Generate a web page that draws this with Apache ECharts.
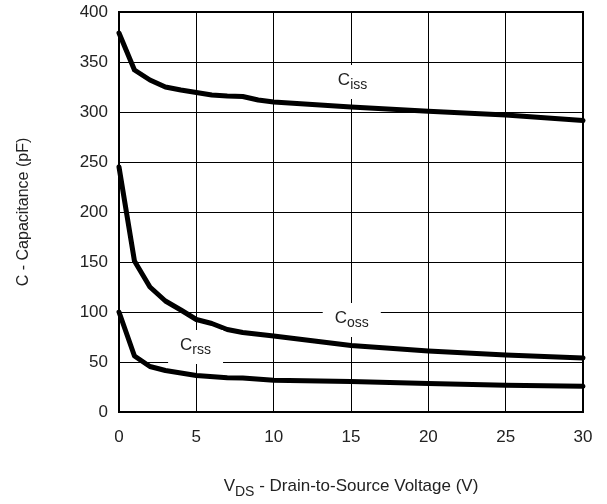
<!DOCTYPE html>
<html>
<head>
<meta charset="utf-8">
<script src="https://cdn.jsdelivr.net/npm/echarts@6/dist/echarts.min.js"></script>
<style>
html,body{margin:0;padding:0;background:#fff;}
#chart{width:607px;height:504px;}
</style>
</head>
<body>
<div id="chart"></div>
<script>
// Data
const vdsCiss = [0, 1, 2, 3, 4, 5, 6, 7, 8, 9, 10, 15, 20, 25, 30];
const ciss    = [379, 342, 332, 325, 322, 319.5, 317, 316, 315.5, 312, 310, 305, 300.7, 297, 291.5];

const vdsCoss = [0, 1, 2, 3, 4, 5, 6, 7, 8, 10, 15, 20, 25, 30];
const coss    = [245, 151, 125, 111, 102, 92.5, 88.5, 82.5, 79.5, 76, 66.5, 61, 57, 54];

const vdsCrss = [0, 1, 2, 3, 5, 7, 8, 10, 15, 20, 25, 30];
const crss    = [100, 56, 45.5, 41.5, 36.5, 34.3, 34, 31.7, 30.5, 28.5, 26.8, 25.7];

const xTicks = [0, 5, 10, 15, 20, 25, 30];
const yTicks = [0, 50, 100, 150, 200, 250, 300, 350, 400];

const seriesNames = ['iss', 'oss', 'rss'];
const labelAnchors = [[15.1, 330], [15.05, 92], [4.95, 65]];

function pairs(xs, ys) { return xs.map((x, i) => [x, ys[i]]); }

const FONT = 'Liberation Sans';
const TXT = '#222';

const labelStyle = {
  show: true,
  position: 'inside',
  backgroundColor: '#fff',
  padding: [7, 12, 7, 12],
  formatter: p => '{c|C}{s|' + p.name + '}',
  rich: {
    c: { fontFamily: FONT, fontSize: 17, color: TXT, lineHeight: 20, verticalAlign: 'bottom', padding: [0, 0, 3, 0] },
    s: { fontFamily: FONT, fontSize: 14, color: TXT, lineHeight: 14, verticalAlign: 'bottom' }
  }
};

function mk(name, data, anchor) {
  return {
    type: 'line',
    name: name,
    data: data,
    symbol: 'none',
    clip: true,
    lineStyle: { color: '#000', width: 5, join: 'round', cap: 'round' },
    markPoint: {
      symbol: 'rect',
      symbolSize: 0,
      silent: true,
      data: [{ name: name, coord: anchor, value: name }],
      label: labelStyle
    },
    z: 3
  };
}

const chart = echarts.init(document.getElementById('chart'), null, { renderer: 'canvas' });
chart.setOption({
  animation: false,
  backgroundColor: '#fff',
  grid: {
    left: 119, right: 24, top: 12, bottom: 88,
    show: true, borderColor: '#000', borderWidth: 2, backgroundColor: 'transparent'
  },
  xAxis: {
    type: 'value',
    min: xTicks[0], max: xTicks[xTicks.length - 1], interval: xTicks[1] - xTicks[0],
    axisLine: { show: true, lineStyle: { color: '#000', width: 2 } },
    axisTick: { show: false },
    axisLabel: { fontFamily: FONT, fontSize: 17, color: TXT, margin: 17 },
    splitLine: { show: true, lineStyle: { color: '#000', width: 1 } },
    name: '{v|V}{d|DS}{t| - Drain-to-Source Voltage (V)}',
    nameLocation: 'middle',
    nameGap: 67,
    nameTextStyle: {
      rich: {
        v: { fontFamily: FONT, fontSize: 17, color: TXT, lineHeight: 20, verticalAlign: 'bottom', padding: [0, 0, 4, 0] },
        d: { fontFamily: FONT, fontSize: 14, color: TXT, lineHeight: 14, verticalAlign: 'bottom' },
        t: { fontFamily: FONT, fontSize: 17, color: TXT, lineHeight: 20, verticalAlign: 'bottom', padding: [0, 0, 4, 0] }
      }
    }
  },
  yAxis: {
    type: 'value',
    min: yTicks[0], max: yTicks[yTicks.length - 1], interval: yTicks[1] - yTicks[0],
    axisLine: { show: true, lineStyle: { color: '#000', width: 2 } },
    axisTick: { show: false },
    axisLabel: { fontFamily: FONT, fontSize: 17, color: TXT, margin: 11 },
    splitLine: { show: true, lineStyle: { color: '#000', width: 1 } },
    name: 'C - Capacitance (pF)',
    nameLocation: 'middle',
    nameGap: 87,
    nameTextStyle: { fontFamily: FONT, fontSize: 16, color: TXT }
  },
  series: [
    mk(seriesNames[0], pairs(vdsCiss, ciss), labelAnchors[0]),
    mk(seriesNames[1], pairs(vdsCoss, coss), labelAnchors[1]),
    mk(seriesNames[2], pairs(vdsCrss, crss), labelAnchors[2])
  ]
});
</script>
</body>
</html>
